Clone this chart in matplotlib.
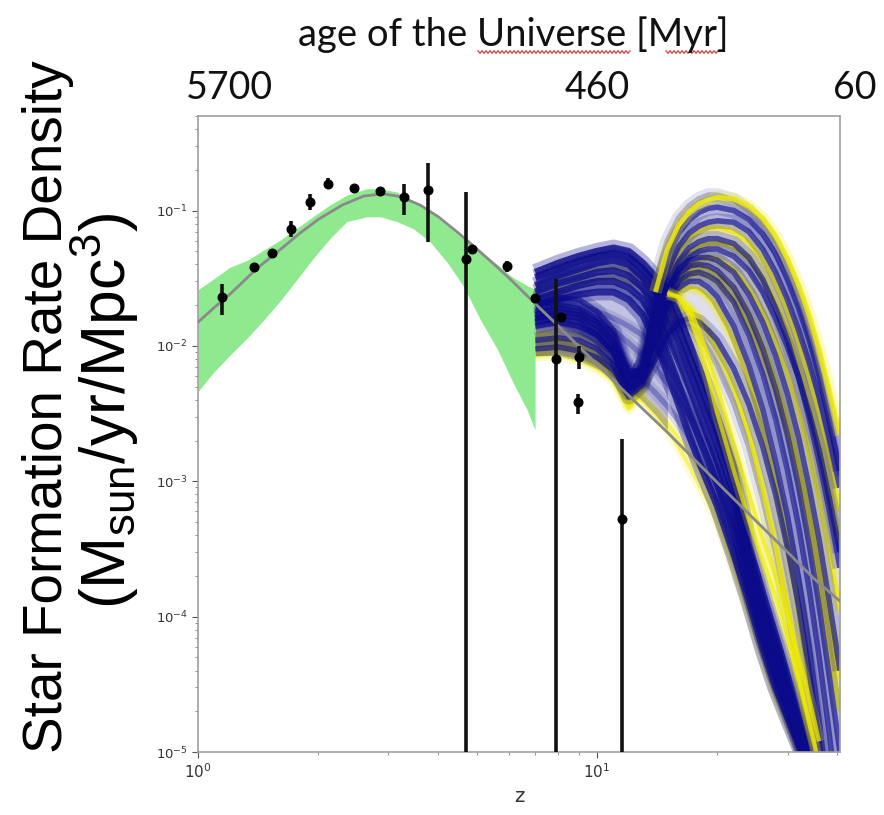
import numpy as np
import matplotlib
matplotlib.use("Agg")
import matplotlib.pyplot as plt
from matplotlib.lines import Line2D

plt.rcParams['mathtext.rm'] = 'Liberation Sans'
plt.rcParams['mathtext.it'] = 'Liberation Sans:italic'
plt.rcParams['mathtext.bf'] = 'Liberation Sans:bold'

# ---------------- data ----------------
model_z = [1.0, 1.1, 1.2, 1.4, 1.6, 1.8, 2.0, 2.3, 2.6, 2.9, 3.2, 3.6, 4.0, 4.5, 5.0,
           5.5, 6.0, 7.0, 8.0, 9.0, 10, 12, 15, 20, 25, 30, 35, 40.6]
model_sfrd = [0.015, 0.0193, 0.024, 0.037, 0.051, 0.068, 0.086, 0.11, 0.128, 0.133, 0.127,
              0.11, 0.09, 0.068, 0.052, 0.0405, 0.032, 0.0205, 0.014, 0.0099, 0.0073,
              0.0043, 0.0023, 0.00098, 0.00051, 0.0003, 0.00019, 0.00013]

band_z = [1.0, 1.09, 1.2, 1.33, 1.46, 1.6, 1.77, 1.94, 2.14, 2.36, 2.65, 2.86, 3.15,
          3.46, 3.81, 4.2, 4.62, 5.09, 5.62, 6.15, 6.67, 6.99]
band_lo = [0.0046, 0.0063, 0.0085, 0.0115, 0.0155, 0.0212, 0.031, 0.044, 0.062, 0.083,
           0.090, 0.090, 0.083, 0.0736, 0.059, 0.0419, 0.0278, 0.0158, 0.0095, 0.0054,
           0.0034, 0.0024]
band_hi = [0.026, 0.031, 0.038, 0.043, 0.051, 0.060, 0.074, 0.090, 0.11, 0.130, 0.145,
           0.145, 0.137, 0.119, 0.098, 0.078, 0.062, 0.049, 0.040, 0.032, 0.028, 0.026]

obs_z = [1.147, 1.381, 1.536, 1.707, 1.909, 2.114, 2.460, 2.858, 3.283, 3.765, 4.689,
         4.870, 5.960, 6.990, 7.893, 8.100, 9.014, 8.98, 11.55]
obs_sfrd = [0.0230, 0.0383, 0.0489, 0.0736, 0.116, 0.158, 0.147, 0.140, 0.126, 0.141,
            0.0441, 0.0523, 0.0387, 0.0226, 0.00801, 0.0163, 0.00825, 0.00383, 0.000523]
obs_lo = [0.0170, 0.0360, 0.0457, 0.0639, 0.1005, 0.1438, 0.140, 0.134, 0.0934, 0.0586,
          1e-7, 0.050, 0.0352, 0.0216, 1e-7, 0.0155, 0.00676, 0.00313, 1e-7]
obs_hi = [0.0288, 0.0405, 0.0523, 0.0834, 0.1337, 0.1747, 0.154, 0.147, 0.158, 0.223,
          0.1376, 0.055, 0.0427, 0.0237, 0.0313, 0.0172, 0.00998, 0.0044, 0.00205]

# high-z model ensemble: plateau-then-fall curves
fall_z = [7, 8, 9, 10, 11, 12, 13, 14, 15, 16, 17, 18, 19, 20, 22, 24, 26, 28, 30, 33, 36]
fall_navy_1 = [0.035, 0.041, 0.046, 0.050, 0.053, 0.050, 0.041, 0.032, 0.027, 0.017, 0.0106,
               0.0069, 0.0045, 0.003, 0.00127, 3.4e-4, 1.5e-4, 7.3e-5, 3.6e-5, 1.25e-5, 4.7e-6]
fall_navy_2 = [0.032, 0.037, 0.042, 0.046, 0.048, 0.045, 0.037, 0.029, 0.022, 0.0135, 0.0085,
               0.0055, 0.0036, 0.0024, 0.001, 3e-4, 1.3e-4, 6.5e-5, 3.2e-5, 1.15e-5, 4.5e-6]
fall_navy_3 = [0.028, 0.033, 0.037, 0.041, 0.043, 0.040, 0.032, 0.024, 0.016, 0.0105, 0.0067,
               0.0043, 0.0028, 0.0019, 8e-4, 2.5e-4, 1.05e-4, 5.5e-5, 2.8e-5, 1.1e-5, 4.4e-6]
fall_navy_4 = [0.025, 0.029, 0.032, 0.035, 0.036, 0.033, 0.027, 0.019, 0.012, 0.0078, 0.005,
               0.0032, 0.0021, 0.0014, 6e-4, 2e-4, 8.5e-5, 4.5e-5, 2.4e-5, 1e-5, 4.2e-6]
fall_navy_5 = [0.022, 0.025, 0.028, 0.030, 0.030, 0.027, 0.022, 0.015, 0.0088, 0.0052, 0.0032,
               0.0021, 0.0014, 9.5e-4, 4.2e-4, 1.6e-4, 7e-5, 3.6e-5, 2.1e-5, 9.5e-6, 4e-6]
fall_navy_6 = [0.020, 0.022, 0.024, 0.025, 0.025, 0.022, 0.017, 0.011, 0.0063, 0.0037, 0.0022,
               0.0014, 9.5e-4, 6.6e-4, 2.9e-4, 1.3e-4, 5.8e-5, 3.0e-5, 1.8e-5, 9e-6, 4e-6]
fall_yellow_1 = [0.026, 0.03, 0.034, 0.037, 0.038, 0.036, 0.031, 0.027, 0.025, 0.023, 0.017,
                 0.0105, 0.0058, 0.0032, 0.0012, 5.2e-4, 2.6e-4, 1.4e-4, 7e-5, 2.4e-5, 8e-6]
fall_yellow_2 = [0.022, 0.026, 0.029, 0.031, 0.032, 0.030, 0.027, 0.025, 0.024, 0.023, 0.019,
                 0.013, 0.0082, 0.005, 0.0019, 8e-4, 3.8e-4, 2e-4, 1e-4, 3.6e-5, 1.2e-5]
decline_yellow_1 = [0.0125, 0.0115, 0.0098, 0.008, 0.0064, 0.0052, 0.0042, 0.0034, 0.0027, 0.0021,
                    0.0016, 0.0012, 8.5e-4, 6e-4, 2.7e-4, 1.2e-4, 5.5e-5, 2.8e-5, 1.7e-5, 8.5e-6, 4e-6]
decline_yellow_2 = [0.0085, 0.0085, 0.0078, 0.0068, 0.0058, 0.0048, 0.0039, 0.0031, 0.0024, 0.0018,
                    0.0013, 9.5e-4, 7e-4, 5e-4, 2.3e-4, 1.05e-4, 5e-5, 2.6e-5, 1.6e-5, 8e-6, 3.8e-6]
decline_pale_1 = [0.016, 0.015, 0.013, 0.0108, 0.0087, 0.007, 0.0056, 0.0045, 0.0036, 0.0028,
                  0.0021, 0.0015, 0.0011, 7.5e-4, 3.2e-4, 1.4e-4, 6.2e-5, 3.1e-5, 1.8e-5, 9e-6, 4e-6]
decline_pale_2 = [0.02, 0.021, 0.02, 0.018, 0.016, 0.014, 0.012, 0.0095, 0.0072, 0.0052, 0.0037,
                  0.0026, 0.0018, 0.0012, 5e-4, 2e-4, 8.5e-5, 4e-5, 2.2e-5, 1e-5, 4.5e-6]
decline_pale_3 = [0.017, 0.018, 0.017, 0.015, 0.013, 0.0105, 0.0085, 0.0068, 0.0053, 0.004, 0.003,
                  0.0021, 0.0015, 0.001, 4.3e-4, 1.8e-4, 7.8e-5, 3.8e-5, 2e-5, 9.5e-6, 4.2e-6]

# high-z model ensemble: dip-and-second-peak curves
arc_z = [7, 8, 9, 10, 11, 12, 13, 14, 15, 16, 17, 18, 19, 20, 22, 24, 26, 28, 30, 32, 34, 36, 38, 40.6]
arc_pale_1 = [0.014, 0.015, 0.014, 0.012, 0.009, 0.0055, 0.009, 0.03, 0.06, 0.088, 0.108, 0.122,
              0.13, 0.13, 0.12, 0.1, 0.078, 0.055, 0.036, 0.022, 0.012, 0.0062, 0.003, 0.0011]
arc_yellow_1 = [0.012, 0.013, 0.012, 0.0105, 0.008, 0.0048, 0.0075, 0.025, 0.052, 0.078, 0.098, 0.112,
                0.12, 0.125, 0.122, 0.108, 0.088, 0.065, 0.044, 0.028, 0.017, 0.0095, 0.005, 0.0022]
arc_navy_1 = [0.016, 0.017, 0.016, 0.013, 0.0095, 0.005, 0.0072, 0.022, 0.045, 0.068, 0.085, 0.097,
              0.104, 0.106, 0.1, 0.086, 0.067, 0.048, 0.031, 0.019, 0.011, 0.006, 0.003, 0.0012]
arc_navy_2 = [0.018, 0.02, 0.019, 0.016, 0.012, 0.006, 0.007, 0.018, 0.036, 0.054, 0.068, 0.077,
              0.082, 0.084, 0.082, 0.07, 0.052, 0.035, 0.022, 0.013, 0.0075, 0.0042, 0.0022, 9e-4]
arc_yellow_2 = [0.011, 0.011, 0.0105, 0.009, 0.007, 0.0042, 0.0058, 0.016, 0.033, 0.05, 0.062, 0.07,
                0.074, 0.075, 0.07, 0.058, 0.043, 0.029, 0.018, 0.0105, 0.0058, 0.003, 0.0015, 6e-4]
arc_navy_3 = [0.02, 0.023, 0.022, 0.018, 0.013, 0.0065, 0.0065, 0.014, 0.028, 0.042, 0.053, 0.059,
              0.062, 0.062, 0.057, 0.045, 0.031, 0.019, 0.011, 0.0058, 0.0029, 0.0014, 6.5e-4, 2.3e-4]
arc_yellow_3 = [0.0105, 0.011, 0.0102, 0.0086, 0.0066, 0.004, 0.0054, 0.014, 0.028, 0.04, 0.049, 0.054,
                0.057, 0.058, 0.054, 0.044, 0.032, 0.021, 0.013, 0.0072, 0.0038, 0.0019, 9e-4, 3.5e-4]
arc_navy_4 = [0.015, 0.016, 0.015, 0.012, 0.009, 0.0048, 0.0058, 0.013, 0.025, 0.036, 0.045, 0.05,
              0.052, 0.052, 0.046, 0.036, 0.025, 0.016, 0.0098, 0.0058, 0.0032, 0.0017, 8e-4, 3e-4]
arc_yellow_4 = [0.01, 0.0105, 0.0095, 0.008, 0.006, 0.0037, 0.0052, 0.012, 0.022, 0.032, 0.039, 0.043,
                0.045, 0.044, 0.037, 0.027, 0.018, 0.011, 0.0062, 0.0033, 0.0016, 7.5e-4, 3.2e-4, 1.1e-4]
arc_navy_5 = [0.017, 0.019, 0.018, 0.015, 0.011, 0.0058, 0.0062, 0.013, 0.025, 0.034, 0.039, 0.04,
              0.039, 0.036, 0.027, 0.017, 0.0095, 0.0048, 0.0022, 9e-4, 3.4e-4, 1.2e-4, 4e-5, 1e-5]
arc_yellow_5 = [0.009, 0.0095, 0.009, 0.0075, 0.0058, 0.0035, 0.0047, 0.011, 0.02, 0.028, 0.033, 0.034,
                0.033, 0.03, 0.022, 0.014, 0.0085, 0.0048, 0.0026, 0.0013, 6e-4, 2.6e-4, 1.1e-4, 3.5e-5]
arc_navy_6 = [0.011, 0.0115, 0.011, 0.0095, 0.0072, 0.0042, 0.0052, 0.012, 0.021, 0.027, 0.03, 0.03,
              0.027, 0.023, 0.014, 0.0072, 0.0034, 0.0014, 5.5e-4, 1.9e-4, 6e-5, 1.7e-5, 4.5e-6, 8e-7]
arc_yellow_6 = [0.0085, 0.009, 0.0085, 0.007, 0.0055, 0.0034, 0.0045, 0.0105, 0.019, 0.025, 0.027, 0.026,
                0.023, 0.019, 0.011, 0.0055, 0.0024, 9.5e-4, 3.4e-4, 1.1e-4, 3e-5, 8e-6, 2e-6, 4e-7]
arc_yellow_7 = [0.0095, 0.01, 0.0095, 0.008, 0.0062, 0.0040, 0.0048, 0.009, 0.015, 0.019, 0.019, 0.016,
                0.0125, 0.0095, 0.005, 0.0023, 9e-4, 3.4e-4, 1.2e-4, 3.8e-5, 1.1e-5, 3e-6, 8e-7, 1.5e-7]
arc_pale_2 = [0.012, 0.013, 0.012, 0.0102, 0.0078, 0.0048, 0.0052, 0.0085, 0.0125, 0.0145, 0.014, 0.012,
              0.0095, 0.0072, 0.0038, 0.0018, 7.5e-4, 3e-4, 1.1e-4, 3.8e-5, 1.2e-5, 3.5e-6, 1e-6, 2e-7]
arc_navy_7 = [0.016, 0.018, 0.017, 0.014, 0.0105, 0.0056, 0.0062, 0.013, 0.026, 0.037, 0.043, 0.045,
              0.045, 0.043, 0.035, 0.024, 0.015, 0.0085, 0.0044, 0.0021, 9e-4, 3.7e-4, 1.4e-4, 4e-5]
arc_yellow_8 = [0.0095, 0.01, 0.0095, 0.008, 0.006, 0.0037, 0.005, 0.0115, 0.021, 0.03, 0.036, 0.038,
                0.037, 0.034, 0.026, 0.017, 0.01, 0.0055, 0.0027, 0.0012, 5e-4, 1.9e-4, 7e-5, 2e-5]
arc_navy_8 = [0.014, 0.015, 0.014, 0.012, 0.009, 0.0048, 0.0056, 0.012, 0.022, 0.03, 0.034, 0.035,
              0.033, 0.03, 0.021, 0.012, 0.0062, 0.0029, 0.0012, 4.6e-4, 1.6e-4, 5e-5, 1.5e-5, 3e-6]
arc_navy_9 = [0.0095, 0.0098, 0.0092, 0.0082, 0.0066, 0.0045, 0.0055, 0.008, 0.012, 0.015, 0.016, 0.015,
              0.013, 0.011, 0.0068, 0.0037, 0.0018, 8e-4, 3.2e-4, 1.2e-4, 4e-5, 1.2e-5, 3.5e-6, 7e-7]

age_labels = ["5700", "460", "60"]
x_ticks = [1, 10]
y_ticks = [1e-5, 1e-4, 1e-3, 1e-2, 1e-1]

# ---------------- figure ----------------
NAVY = '#0a0a8a'
YELLOW = '#f0ec00'

fig = plt.figure(figsize=(8.84, 8.15), dpi=100)
ax = fig.add_axes([0.224, 0.0773, 0.7262, 0.7804])
ax.set_xscale('log')
ax.set_yscale('log')
ax.set_xlim(1, 40.6)
ax.set_ylim(1e-5, 0.5)

ax.fill_between(band_z, band_lo, band_hi, color='#8fe98f', lw=0, zorder=1)

navy_arcs = [arc_navy_1, arc_navy_2, arc_navy_3, arc_navy_4, arc_navy_5, arc_navy_6,
             arc_navy_7, arc_navy_8, arc_navy_9]
yellow_arcs = [arc_yellow_2, arc_yellow_3, arc_yellow_4, arc_yellow_5, arc_yellow_6,
               arc_yellow_7, arc_yellow_8]
all_arcs = np.array(navy_arcs + yellow_arcs + [arc_pale_1, arc_pale_2, arc_yellow_1])


def stroke(z, y, color, halo_a, core_a, halo_w=10, core_w=3.5, zo=2):
    ax.plot(z, y, color=color, lw=halo_w, alpha=halo_a, solid_capstyle='butt', zorder=zo)
    ax.plot(z, y, color=color, lw=core_w, alpha=core_a, solid_capstyle='butt', zorder=zo)


# faint haze spanned by the ensemble of second-peak curves
ax.fill_between(arc_z, all_arcs.min(axis=0), all_arcs.max(axis=0), color=NAVY,
                alpha=0.13, lw=0, zorder=1.5)

# pale (light) curves
for y in (arc_pale_1, arc_pale_2):
    stroke(arc_z, y, NAVY, 0.12, 0.28, halo_w=10, core_w=4)

# yellow curves (drawn under the navy ones); plateau part dimmer
for y in (decline_yellow_1, decline_yellow_2):
    stroke(fall_z, y, YELLOW, 0.15, 0.45, halo_w=8, core_w=3)
for y in yellow_arcs + [arc_yellow_1]:
    stroke(arc_z[:8], y[:8], YELLOW, 0.12, 0.4, halo_w=8, core_w=3)
for y in yellow_arcs:
    stroke(arc_z[7:], y[7:], YELLOW, 0.22, 0.75, halo_w=9, core_w=3.5)
for y in (fall_yellow_1, fall_yellow_2):
    stroke(fall_z[:9], y[:9], YELLOW, 0.12, 0.4, halo_w=8, core_w=3)

# haze over the plateau
ax.fill_between(fall_z[:9], decline_yellow_2[:9], fall_navy_1[:9], color=NAVY,
                alpha=0.25, lw=0, zorder=2)
for y in (decline_pale_1, decline_pale_2, decline_pale_3):
    stroke(fall_z, y, NAVY, 0.12, 0.3, halo_w=9, core_w=4)

# navy plateau/fall curves
for y in (fall_navy_1, fall_navy_2, fall_navy_3, fall_navy_4, fall_navy_5, fall_navy_6):
    stroke(fall_z, y, NAVY, 0.30, 0.75, halo_w=12, core_w=5)

# navy arcs
for y in navy_arcs:
    stroke(arc_z, y, NAVY, 0.20, 0.62, halo_w=11, core_w=4)

# bright yellow on top (beyond the dip)
stroke(arc_z[7:], arc_yellow_1[7:], YELLOW, 0.25, 0.8, halo_w=9, core_w=3.5)
for y in (fall_yellow_1, fall_yellow_2):
    stroke(fall_z[8:], y[8:], YELLOW, 0.22, 0.7, halo_w=8, core_w=3)

# model line and data
ax.plot(model_z, model_sfrd, color='#8a8a8a', lw=2, zorder=5)
obs_sfrd_a = np.array(obs_sfrd)
ax.errorbar(obs_z, obs_sfrd,
            yerr=[obs_sfrd_a - np.array(obs_lo), np.array(obs_hi) - obs_sfrd_a],
            fmt='o', color='black', ecolor='#111111', ms=6.2, elinewidth=2.6, capsize=0, zorder=6)

# axes styling
for s in ax.spines.values():
    s.set_color('#a0a0a0')
    s.set_linewidth(1.2)
ax.set_xticks(x_ticks)
ax.set_xticklabels([r'$10^{0}$', r'$10^{1}$'])
ax.set_yticks(y_ticks)
ax.set_yticklabels([r'$10^{-5}$', r'$10^{-4}$', r'$10^{-3}$', r'$10^{-2}$', r'$10^{-1}$'])
ax.tick_params(axis='x', which='major', labelsize=11, colors='#555555', length=4)
ax.tick_params(axis='y', which='major', labelsize=9.5, colors='#555555', length=4)
ax.tick_params(which='minor', colors='#777777', length=2)
for lab in ax.get_xticklabels() + ax.get_yticklabels():
    lab.set_color('#333333')
ax.set_xlabel('z', fontsize=14, color='#333333', labelpad=4)

# y-axis title (two lines)
fig.text(62 / 884, 1 - 407 / 815, 'Star Formation Rate Density', rotation=90,
         rotation_mode='anchor', ha='center', va='baseline', fontsize=39.5,
         family='Liberation Sans', color='black')
fig.text(126 / 884, 1 - 411 / 815, r'(M$_{\mathrm{sun}}$/yr/Mpc$^{3}$)', rotation=90,
         rotation_mode='anchor', ha='center', va='baseline', fontsize=45,
         family='Liberation Sans', math_fontfamily='custom', color='black')

# top annotations
fig.text(513 / 884, 1 - 35 / 815, 'age of the Universe [Myr]', ha='center', va='center',
         fontsize=27.5, family='Lato', color='#111111')
for lab, xp in zip(age_labels, [229, 597, 855]):
    fig.text(xp / 884, 1 - 88 / 815, lab, ha='center', va='center', fontsize=27,
             family='Lato', color='#111111')

# red spell-check squiggles under "Universe" and "Myr"
for x0, x1 in ((478, 630), (666, 718)):
    sx = np.arange(x0, x1 + 1, 2.0)
    sy = 52 + 1.3 * np.where(np.arange(len(sx)) % 2 == 0, -1, 1)
    fig.add_artist(Line2D(sx / 884, 1 - sy / 815, color='#e03a3a', lw=0.9,
                          transform=fig.transFigure))

fig.savefig('out.png', dpi=100, facecolor='white')
